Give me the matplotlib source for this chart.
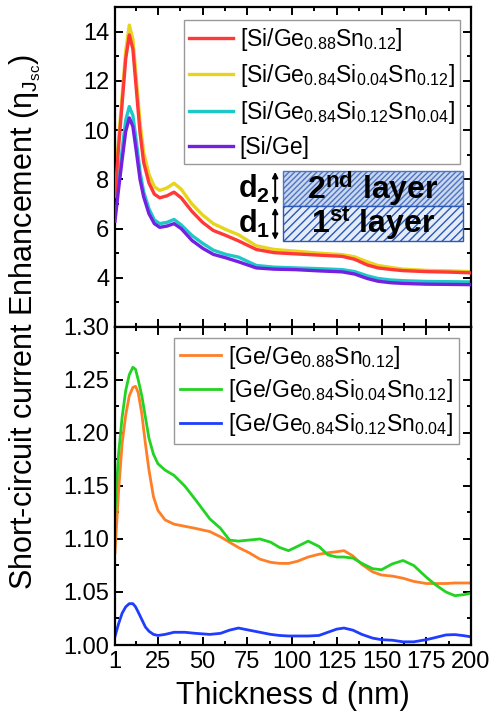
import matplotlib
matplotlib.use('Agg')
import matplotlib.pyplot as plt
from matplotlib.patches import Rectangle
from matplotlib.ticker import MultipleLocator, FormatStrFormatter

plt.rcParams['font.family'] = ['Liberation Sans', 'DejaVu Sans']
plt.rcParams['mathtext.fontset'] = 'custom'
plt.rcParams['mathtext.rm'] = 'Liberation Sans'
plt.rcParams['mathtext.it'] = 'Liberation Sans:italic'
plt.rcParams['mathtext.bf'] = 'Liberation Sans:bold'
plt.rcParams['hatch.linewidth'] = 1.0

# DATA - upper panel (Si bottom layer)
d_top = [1, 3, 5, 7, 9, 11, 13, 15, 17, 20, 23, 26, 30, 34, 38, 44, 50, 56, 63, 70,
         80, 90, 102, 115, 128, 135, 142, 148, 155, 162, 175, 188, 200]
si_gesn = [7.3, 9.3, 11.1, 12.9, 13.87, 13.3, 11.6, 9.9, 8.7, 7.85, 7.4, 7.25, 7.33, 7.48, 7.25,
           6.7, 6.25, 5.92, 5.72, 5.5, 5.15, 5.02, 4.97, 4.92, 4.87, 4.75, 4.52, 4.4, 4.34,
           4.29, 4.25, 4.23, 4.2]
si_gesisn_a = [7.7, 9.6, 11.4, 13.2, 14.27, 13.7, 12.0, 10.3, 9.1, 8.2, 7.7, 7.55, 7.65, 7.84, 7.6,
               7.0, 6.55, 6.2, 5.96, 5.75, 5.3, 5.15, 5.08, 5.0, 4.94, 4.85, 4.65, 4.5, 4.42,
               4.35, 4.3, 4.28, 4.25]
si_gesisn_b = [6.6, 7.9, 9.2, 10.4, 10.96, 10.6, 9.5, 8.3, 7.5, 6.8, 6.35, 6.2, 6.25, 6.37, 6.15,
               5.72, 5.4, 5.12, 4.95, 4.84, 4.5, 4.43, 4.4, 4.37, 4.33, 4.25, 4.08, 3.97, 3.91,
               3.88, 3.85, 3.84, 3.83]
si_ge = [6.3, 7.6, 8.8, 9.95, 10.5, 10.15, 9.1, 8.0, 7.3, 6.6, 6.2, 6.05, 6.1, 6.2, 6.0,
         5.52, 5.2, 4.95, 4.81, 4.65, 4.4, 4.35, 4.33, 4.28, 4.24, 4.15, 3.97, 3.86, 3.8,
         3.77, 3.74, 3.73, 3.72]

# DATA - lower panel (Ge bottom layer)
d_bot = [1, 3, 5, 7, 9, 11, 12.5, 14, 16, 18, 20, 22.5, 25, 29, 34, 40, 46, 54, 60, 65,
         70, 76, 82, 88, 93, 98, 103, 109, 115, 120, 125, 129, 134, 139, 145, 150, 156,
         162, 168, 175, 180, 186, 191, 196, 200]
ge_gesn = [1.087, 1.145, 1.19, 1.217, 1.235, 1.243, 1.244, 1.238, 1.218, 1.19, 1.165, 1.14,
           1.127, 1.118, 1.114, 1.112, 1.110, 1.107, 1.102, 1.097, 1.092, 1.087, 1.081,
           1.078, 1.077, 1.077, 1.079, 1.083, 1.0856, 1.087, 1.088, 1.089, 1.084, 1.076,
           1.069, 1.066, 1.065, 1.063, 1.060, 1.058, 1.058, 1.058, 1.0585, 1.0585, 1.0585]
ge_gesisn_a = [1.125, 1.18, 1.215, 1.24, 1.255, 1.262, 1.26, 1.25, 1.235, 1.215, 1.195, 1.18,
               1.171, 1.165, 1.16, 1.15, 1.137, 1.119, 1.11, 1.099, 1.098, 1.099, 1.100,
               1.097, 1.092, 1.089, 1.093, 1.098, 1.093, 1.085, 1.083, 1.083, 1.082, 1.077,
               1.072, 1.071, 1.0765, 1.0797, 1.075, 1.064, 1.057, 1.05, 1.0465, 1.0475, 1.049]
ge_gesisn_b = [1.008, 1.02, 1.03, 1.036, 1.039, 1.039, 1.036, 1.031, 1.024, 1.017, 1.013, 1.01,
               1.009, 1.01, 1.012, 1.012, 1.011, 1.01, 1.011, 1.014, 1.016, 1.014, 1.012,
               1.010, 1.009, 1.0085, 1.0085, 1.0085, 1.009, 1.012, 1.015, 1.016, 1.014, 1.01,
               1.0065, 1.005, 1.0045, 1.003, 1.003, 1.005, 1.007, 1.0095, 1.0098, 1.0088, 1.0077]

top_labels = [r'[Si/Ge$_{0.88}$Sn$_{0.12}$]',
              r'[Si/Ge$_{0.84}$Si$_{0.04}$Sn$_{0.12}$]',
              r'[Si/Ge$_{0.84}$Si$_{0.12}$Sn$_{0.04}$]',
              '[Si/Ge]']
bot_labels = [r'[Ge/Ge$_{0.88}$Sn$_{0.12}$]',
              r'[Ge/Ge$_{0.84}$Si$_{0.04}$Sn$_{0.12}$]',
              r'[Ge/Ge$_{0.84}$Si$_{0.12}$Sn$_{0.04}$]']
x_ticks = [1, 25, 50, 75, 100, 125, 150, 175, 200]

fig = plt.figure(figsize=(4.92, 7.15), dpi=100)
ax1 = fig.add_axes([0.2337, 0.5427, 0.7236, 0.4473])
ax2 = fig.add_axes([0.2337, 0.0979, 0.7236, 0.4448])

# upper panel curves
ax1.plot(d_top, si_gesn, color='#ff3838', lw=2.4, label=top_labels[0], zorder=3)
ax1.plot(d_top, si_gesisn_a, color='#e8d41c', lw=2.4, label=top_labels[1], zorder=2)
ax1.plot(d_top, si_gesisn_b, color='#1ec8c8', lw=2.4, label=top_labels[2], zorder=2)
ax1.plot(d_top, si_ge, color='#7420e0', lw=2.4, label=top_labels[3], zorder=3)

# lower panel curves
ax2.plot(d_bot, ge_gesn, color='#ff7f27', lw=2.0, label=bot_labels[0])
ax2.plot(d_bot, ge_gesisn_a, color='#22d322', lw=2.0, label=bot_labels[1])
ax2.plot(d_bot, ge_gesisn_b, color='#1f3cff', lw=2.0, label=bot_labels[2])

ax1.set_xlim(1, 200)
ax2.set_xlim(1, 200)
ax1.set_ylim(2, 15)
ax2.set_ylim(1.0, 1.3)

ax1.set_yticks([4, 6, 8, 10, 12, 14])
ax1.yaxis.set_minor_locator(MultipleLocator(1))
ax2.set_yticks([1.0, 1.05, 1.1, 1.15, 1.2, 1.25, 1.3])
ax2.yaxis.set_major_formatter(FormatStrFormatter('%.2f'))
ax2.yaxis.set_minor_locator(MultipleLocator(0.025))
for ax in (ax1, ax2):
    ax.set_xticks(x_ticks)
    ax.xaxis.set_minor_locator(MultipleLocator(12.5))
    ax.tick_params(which='both', direction='in', top=True, right=True, width=1.4)
    ax.tick_params(which='major', length=5.5, labelsize=17, pad=4)
    ax.tick_params(which='minor', length=3)
    for sp in ax.spines.values():
        sp.set_linewidth(1.6)
ax1.tick_params(labelbottom=False)

ax2.set_xlabel('Thickness d (nm)', fontsize=22, labelpad=6)
fig.text(0.052, 0.55, r'Short-circuit current Enhancement (η$_{\mathrm{J_{sc}}}$)',
         rotation=90, ha='center', va='center', fontsize=22)

leg1 = ax1.legend(loc='upper right', bbox_to_anchor=(0.97, 0.96), fontsize=16.5,
                  handlelength=1.9, handletextpad=0.3, borderpad=0.25, labelspacing=0.42,
                  fancybox=False, framealpha=1, borderaxespad=0)
leg1.get_frame().set_edgecolor('#999999')
leg2 = ax2.legend(loc='upper right', bbox_to_anchor=(0.965, 0.966), fontsize=16.5,
                  handlelength=1.8, handletextpad=0.3, borderpad=0.25, labelspacing=0.3,
                  fancybox=False, framealpha=1, borderaxespad=0)
leg2.get_frame().set_edgecolor('#999999')

# layer sketch
ax1.add_patch(Rectangle((0.472, 0.378), 0.506, 0.11, transform=ax1.transAxes,
                        facecolor='#c9d7ef', edgecolor='#4f74c2', hatch='//////', lw=1, zorder=4))
ax1.add_patch(Rectangle((0.472, 0.269), 0.506, 0.109, transform=ax1.transAxes,
                        facecolor='#e4ecf8', edgecolor='#2c58b8', hatch='////', lw=1, zorder=4))
ax1.text(0.725, 0.433, r'2$^{\mathbf{nd}}$ layer', transform=ax1.transAxes, ha='center',
         va='center', fontsize=23, fontweight='bold', zorder=5)
ax1.text(0.725, 0.323, r'1$^{\mathbf{st}}$ layer', transform=ax1.transAxes, ha='center',
         va='center', fontsize=23, fontweight='bold', zorder=5)
ax1.text(0.39, 0.433, r'd$_{\mathbf{2}}$', transform=ax1.transAxes, ha='center',
         va='center', fontsize=22, fontweight='bold')
ax1.text(0.39, 0.323, r'd$_{\mathbf{1}}$', transform=ax1.transAxes, ha='center',
         va='center', fontsize=22, fontweight='bold')
for y0, y1 in [(0.383, 0.485), (0.272, 0.373)]:
    ax1.annotate('', xy=(0.45, y1), xytext=(0.45, y0), xycoords='axes fraction',
                 arrowprops=dict(arrowstyle='<|-|>', color='black', lw=1.4,
                                 mutation_scale=8, shrinkA=0, shrinkB=0))

fig.savefig('out.png', dpi=100)
